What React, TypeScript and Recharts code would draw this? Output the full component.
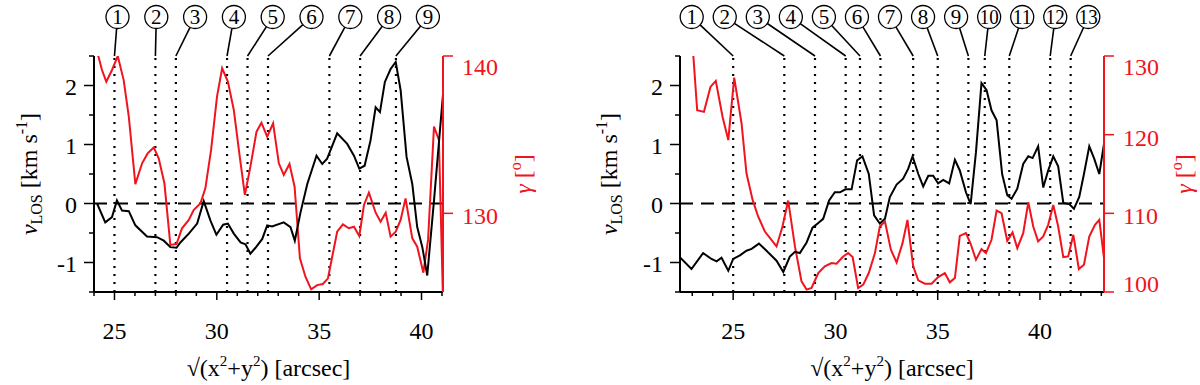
import { LineChart, Line, XAxis, YAxis, ReferenceLine } from 'recharts';

type P = [number, number];

// left panel: [distance, value]
const leftVlos: P[] = [
  [24.15, 0], [24.55, -0.32], [24.88, -0.23], [25.12, 0.05], [25.37, -0.12], [25.7, -0.13],
  [26.02, -0.37], [26.59, -0.56], [27.08, -0.57], [27.41, -0.63], [27.73, -0.74], [28.03, -0.75],
  [28.22, -0.66], [28.63, -0.51], [29.04, -0.34], [29.36, 0.04], [29.69, -0.29], [29.98, -0.53],
  [30.31, -0.36], [30.54, -0.34], [30.83, -0.51], [31.16, -0.66], [31.4, -0.69], [31.64, -0.85],
  [31.89, -0.75], [32.22, -0.6], [32.46, -0.37], [32.7, -0.39], [33.27, -0.32], [33.6, -0.4],
  [33.81, -0.63], [34.09, -0.15], [34.42, 0.33], [34.87, 0.81], [35.15, 0.67], [35.39, 0.76],
  [35.88, 1.19], [36.37, 1.01], [36.7, 0.81], [36.96, 0.59], [37.22, 0.64], [37.51, 1.07],
  [37.76, 1.63], [37.97, 1.55], [38.21, 2.06], [38.49, 2.28], [38.74, 2.4], [38.98, 1.92],
  [39.27, 0.79], [39.55, 0.33], [39.79, -0.4], [40.04, -0.74], [40.28, -1.22], [40.61, 0.05],
  [41.05, 1.85],
];

const leftGamma: P[] = [
  [24.15, 140.3], [24.39, 139.11], [24.6, 138.37], [24.88, 139.11], [25.16, 140.0], [25.45, 138.47],
  [25.7, 136.14], [26.02, 131.86], [26.35, 133.18], [26.62, 133.81], [26.92, 134.19], [27.16, 133.5],
  [27.44, 131.91], [27.73, 127.99], [28.03, 128.05], [28.3, 129.05], [28.63, 129.58], [28.87, 130.21],
  [29.2, 130.64], [29.44, 131.59], [29.72, 134.03], [30.01, 137.42], [30.26, 139.22], [30.54, 138.37],
  [30.83, 136.57], [31.12, 133.6], [31.37, 131.17], [31.64, 132.97], [31.94, 135.19], [32.18, 135.76],
  [32.46, 134.87], [32.75, 135.72], [33.03, 133.18], [33.27, 132.44], [33.55, 133.14], [33.8, 131.69],
  [34.06, 127.14], [34.33, 125.97], [34.61, 125.17], [34.9, 125.44], [35.18, 125.51], [35.43, 125.87],
  [35.88, 128.83], [36.16, 129.3], [36.45, 129.05], [36.7, 129.15], [36.96, 128.56], [37.19, 130.53],
  [37.43, 131.31], [37.76, 130.04], [38.0, 129.47], [38.25, 130.04], [38.49, 128.52], [38.74, 128.83],
  [38.98, 129.58], [39.22, 130.95], [39.55, 128.41], [39.79, 127.88], [40.09, 126.23], [40.32, 128.31],
  [40.61, 135.51], [40.85, 134.66], [41.05, 124.5],
];

const leftCuts = [25, 27, 28, 30.5, 31.5, 32.5, 35.5, 37, 38.75];
const leftDistTicks = [24, 25, 26, 27, 28, 29, 30, 31, 32, 33, 34, 35, 36, 37, 38, 39, 40, 41];
const leftGammaTicks = [130, 140];

// right panel
const rightVlos: P[] = [
  [22.39, -0.91], [22.96, -1.11], [23.53, -0.84], [23.94, -0.94], [24.19, -0.98], [24.43, -0.92],
  [24.76, -1.14], [25.0, -0.94], [25.33, -0.88], [25.65, -0.8], [25.9, -0.77], [26.26, -0.68],
  [26.63, -0.8], [27.12, -0.97], [27.45, -1.16], [27.77, -0.9], [28.02, -0.82], [28.26, -0.84],
  [28.59, -0.66], [28.88, -0.41], [29.16, -0.33], [29.4, -0.26], [29.69, 0.05], [29.97, 0.19],
  [30.22, 0.19], [30.49, 0.24], [30.79, 0.24], [31.06, 0.73], [31.32, 0.8], [31.63, 0.5],
  [31.89, -0.2], [32.17, -0.34], [32.42, -0.26], [32.66, 0.11], [32.99, 0.32], [33.31, 0.42],
  [33.56, 0.59], [33.77, 0.8], [34.05, 0.5], [34.29, 0.29], [34.54, 0.47], [34.78, 0.47],
  [35.02, 0.34], [35.27, 0.4], [35.56, 0.34], [35.84, 0.74], [36.08, 0.56], [36.38, 0.19],
  [36.61, -0.01], [36.87, 0.87], [37.14, 2.04], [37.39, 1.92], [37.63, 1.58], [37.88, 1.41],
  [38.15, 0.5], [38.4, 0.14], [38.61, 0.08], [38.89, 0.25], [39.18, 0.67], [39.43, 0.8],
  [39.64, 0.77], [39.91, 0.97], [40.16, 0.27], [40.4, 0.56], [40.65, 0.8], [40.89, 0.63],
  [41.14, 0.01], [41.43, -0.01], [41.66, -0.09], [41.92, 0.11], [42.15, 0.5], [42.41, 0.97],
  [42.65, 0.76], [42.9, 0.5], [43.13, 1.01],
];

const rightGamma: P[] = [
  [23.04, 130.5], [23.24, 123.11], [23.57, 122.9], [23.89, 126.07], [24.15, 126.83], [24.48, 122.27],
  [24.76, 119.31], [25.05, 127.25], [25.41, 121.42], [25.65, 115.09], [25.95, 111.71], [26.22, 109.6],
  [26.55, 107.69], [27.12, 105.79], [27.41, 108.33], [27.69, 111.62], [28.02, 105.79], [28.34, 101.36],
  [28.59, 100.3], [28.83, 100.51], [29.16, 102.41], [29.48, 103.26], [29.81, 103.68], [30.05, 103.6],
  [30.38, 104.52], [30.62, 104.95], [30.84, 104.44], [31.11, 100.51], [31.36, 100.93], [31.63, 102.41],
  [31.93, 104.95], [32.17, 108.33], [32.42, 108.96], [32.71, 105.37], [32.99, 103.76], [33.28, 106.21],
  [33.52, 109.17], [33.8, 103.26], [34.05, 101.48], [34.37, 101.06], [34.7, 101.06], [35.02, 101.9],
  [35.35, 102.41], [35.59, 101.23], [35.84, 101.78], [36.08, 107.14], [36.38, 107.48], [36.61, 106.13],
  [36.87, 104.1], [37.14, 105.45], [37.36, 104.95], [37.63, 106.64], [37.88, 110.35], [38.12, 110.02],
  [38.4, 106.51], [38.66, 107.57], [38.89, 105.58], [39.18, 107.48], [39.43, 111.41], [39.67, 108.33],
  [39.91, 106.43], [40.16, 107.06], [40.4, 108.54], [40.65, 111.07], [40.89, 108.33], [41.14, 104.44],
  [41.38, 104.52], [41.63, 107.27], [41.9, 102.92], [42.15, 103.47], [42.41, 107.06], [42.69, 108.54],
  [42.9, 109.17], [43.13, 104.31],
];

const rightCuts = [25, 27.5, 29, 30.5, 31.2, 32.2, 33.8, 35, 36.5, 37.3, 38.5, 40.5, 41.5];
const rightDistTicks = [23, 24, 25, 26, 27, 28, 29, 30, 31, 32, 33, 34, 35, 36, 37, 38, 39, 40, 41, 42, 43];
const rightGammaTicks = [100, 110, 120, 130];

const vTicks = [-1.5, -1, -0.5, 0, 0.5, 1, 1.5, 2, 2.5];

const FONT = '"Liberation Serif", "Times New Roman", serif';
const RED = '#f0141e';
const BLACK = '#000';
const txt = { fontFamily: FONT };

const toRows = (pts: P[]) => pts.map(([x, y]) => ({ x, y }));

const BottomTick = (props: any) => {
  const { x, y, payload } = props;
  const major = payload.value % 5 === 0;
  return (
    <g>
      <line x1={x} x2={x} y1={y} y2={y + (major ? 8 : 4)} stroke={BLACK} strokeWidth={1.5} />
      {major && (
        <text x={x} y={y + 47} textAnchor="middle" fontSize={24} style={txt} fill={BLACK}>
          {payload.value}
        </text>
      )}
    </g>
  );
};

const TopTick = (props: any) => {
  const { x, y, payload } = props;
  const major = payload.value % 5 === 0;
  return <line x1={x} x2={x} y1={y} y2={y - (major ? 7 : 4)} stroke={BLACK} strokeWidth={1.5} />;
};

const VTick = (props: any) => {
  const { x, y, payload } = props;
  const v = payload.value;
  const major = Number.isInteger(v) && v > -1.5 && v < 2.5;
  return (
    <g>
      <line x1={x - (major ? 10 : 5)} x2={x} y1={y} y2={y} stroke={BLACK} strokeWidth={1.5} />
      {major && (
        <text x={x - 17} y={y + 9} textAnchor="end" fontSize={24} style={txt} fill={BLACK}>
          {v}
        </text>
      )}
    </g>
  );
};

const makeGammaTick = (lo: number, hi: number) => (props: any) => {
  const { x, y, payload } = props;
  const v = payload.value;
  const dy = v === hi ? 19 : v === lo ? 0 : 11;
  return (
    <g>
      <line x1={x} x2={x + 10} y1={y} y2={y} stroke={RED} strokeWidth={1.5} />
      <text x={x + 19} y={y + dy} textAnchor="start" fontSize={24} style={txt} fill={RED}>
        {v}
      </text>
    </g>
  );
};

const Marker = (props: any) => {
  const { viewBox, n, cx } = props;
  const cy = 17;
  const r = 11.5;
  const tx = viewBox.x;
  const ty = viewBox.y;
  const dx = tx - cx;
  const dy = ty - cy;
  const len = Math.hypot(dx, dy);
  const two = n > 9;
  return (
    <g>
      <line x1={cx + (dx / len) * r} y1={cy + (dy / len) * r} x2={tx} y2={ty} stroke={BLACK} strokeWidth={1.6} />
      <circle cx={cx} cy={cy} r={r} fill="#fff" stroke={BLACK} strokeWidth={1.3} />
      <text
        x={cx}
        y={cy + 7}
        textAnchor="middle"
        fontSize={21}
        style={txt}
        fill={BLACK}
        {...(two ? { textLength: 19, lengthAdjust: 'spacingAndGlyphs' } : {})}
      >
        {n}
      </text>
    </g>
  );
};

const XTitle = (props: any) => {
  const vb = props.viewBox;
  return (
    <text x={vb.x + vb.width / 2} y={vb.y + 84} textAnchor="middle" fontSize={24} style={txt} fill={BLACK}>
      √(x<tspan fontSize={15} dy={-10}>2</tspan>
      <tspan dy={10}>+y</tspan>
      <tspan fontSize={15} dy={-10}>2</tspan>
      <tspan dy={10}>) [arcsec]</tspan>
    </text>
  );
};

const makeVTitle = (offset: number) => (props: any) => {
  const vb = props.viewBox;
  const cx = vb.x + vb.width - offset;
  const cy = vb.y + vb.height / 2;
  return (
    <text
      x={cx}
      y={cy}
      transform={`rotate(-90 ${cx} ${cy})`}
      textAnchor="middle"
      fontSize={24}
      style={txt}
      fill={BLACK}
    >
      <tspan fontStyle="italic">v</tspan>
      <tspan fontSize={16} dy={5}>LOS</tspan>
      <tspan dy={-5}> [km s</tspan>
      <tspan fontSize={16} dy={-10}>-1</tspan>
      <tspan dy={10}>]</tspan>
    </text>
  );
};

const GTitle = (props: any) => {
  const vb = props.viewBox;
  const cx = vb.x + 88;
  const cy = vb.y + vb.height / 2;
  return (
    <text
      x={cx}
      y={cy}
      transform={`rotate(-90 ${cx} ${cy})`}
      textAnchor="middle"
      fontSize={24}
      style={txt}
      fill={RED}
    >
      <tspan fontStyle="italic">γ</tspan>
      <tspan> [</tspan>
      <tspan fontSize={16} dy={-10}>o</tspan>
      <tspan dy={10}>]</tspan>
    </text>
  );
};

type PanelProps = {
  vlos: P[];
  gamma: P[];
  cuts: number[];
  distDomain: [number, number];
  distTicks: number[];
  gDomain: [number, number];
  gTicks: number[];
  width: number;
  margin: { top: number; right: number; bottom: number; left: number };
  markStart: number;
  markGap: number;
  labelOffset: number;
};

const Panel = ({
  vlos, gamma, cuts, distDomain, distTicks, gDomain, gTicks, width, margin, markStart, markGap, labelOffset,
}: PanelProps) => {
  const GammaTick = makeGammaTick(gDomain[0], gDomain[1]);
  const VTitle = makeVTitle(labelOffset);
  return (
    <LineChart width={width} height={385} margin={margin} style={txt}>
      <XAxis
        xAxisId="b"
        dataKey="x"
        type="number"
        domain={distDomain}
        allowDataOverflow
        ticks={distTicks}
        interval={0}
        height={30}
        tickSize={0}
        tickMargin={0}
        tickLine={false}
        tick={<BottomTick />}
        axisLine={{ stroke: BLACK, strokeWidth: 2 }}
        label={{ content: <XTitle /> } as any}
      />
      <XAxis
        xAxisId="t"
        orientation="top"
        type="number"
        domain={distDomain}
        allowDataOverflow
        ticks={distTicks}
        interval={0}
        height={0}
        tickSize={0}
        tickMargin={0}
        tickLine={false}
        tick={<TopTick />}
        axisLine={{ stroke: BLACK, strokeWidth: 2 }}
      />
      <YAxis
        yAxisId="v"
        type="number"
        domain={[-1.5, 2.5]}
        allowDataOverflow
        ticks={vTicks}
        interval={0}
        width={50}
        tickSize={0}
        tickMargin={0}
        tickLine={false}
        tick={<VTick />}
        axisLine={{ stroke: BLACK, strokeWidth: 2 }}
        label={{ content: <VTitle /> } as any}
      />
      <YAxis
        yAxisId="g"
        orientation="right"
        type="number"
        domain={gDomain}
        allowDataOverflow
        ticks={gTicks}
        interval={0}
        width={60}
        tickSize={0}
        tickMargin={0}
        tickLine={false}
        tick={<GammaTick />}
        axisLine={{ stroke: RED, strokeWidth: 2 }}
        label={{ content: <GTitle /> } as any}
      />
      <ReferenceLine
        xAxisId="b"
        yAxisId="v"
        y={0}
        stroke={BLACK}
        strokeWidth={2}
        strokeDasharray="13 8"
      />
      {cuts.map((c, i) => (
        <ReferenceLine
          key={c}
          xAxisId="b"
          yAxisId="v"
          x={c}
          stroke={BLACK}
          strokeWidth={2.2}
          strokeDasharray="2 6"
          label={<Marker n={i + 1} cx={markStart + i * markGap} />}
        />
      ))}
      <Line
        data={toRows(gamma)}
        xAxisId="b"
        yAxisId="g"
        dataKey="y"
        type="linear"
        stroke={RED}
        strokeWidth={2}
        dot={false}
        isAnimationActive={false}
      />
      <Line
        data={toRows(vlos)}
        xAxisId="b"
        yAxisId="v"
        dataKey="y"
        type="linear"
        stroke={BLACK}
        strokeWidth={2}
        dot={false}
        isAnimationActive={false}
      />
    </LineChart>
  );
};

export default function App() {
  return (
    <div style={{ position: 'absolute', left: 0, top: 0, width: 1200, height: 385, background: '#fff', fontFamily: FONT }}>
      <div style={{ position: 'absolute', left: 0, top: 0 }}>
        <Panel
          vlos={leftVlos}
          gamma={leftGamma}
          cuts={leftCuts}
          distDomain={[24, 41.05]}
          distTicks={leftDistTicks}
          gDomain={[125, 140]}
          gTicks={leftGammaTicks}
          width={580}
          margin={{ top: 56, right: 77, bottom: 63, left: 44 }}
          markStart={117.5}
          markGap={38.8}
          labelOffset={57}
        />
      </div>
      <div style={{ position: 'absolute', left: 580, top: 0 }}>
        <Panel
          vlos={rightVlos}
          gamma={rightGamma}
          cuts={rightCuts}
          distDomain={[22.4, 43.13]}
          distTicks={rightDistTicks}
          gDomain={[100, 130]}
          gTicks={rightGammaTicks}
          width={620}
          margin={{ top: 56, right: 36, bottom: 63, left: 50 }}
          markStart={111.7}
          markGap={33.05}
          labelOffset={63}
        />
      </div>
    </div>
  );
}
